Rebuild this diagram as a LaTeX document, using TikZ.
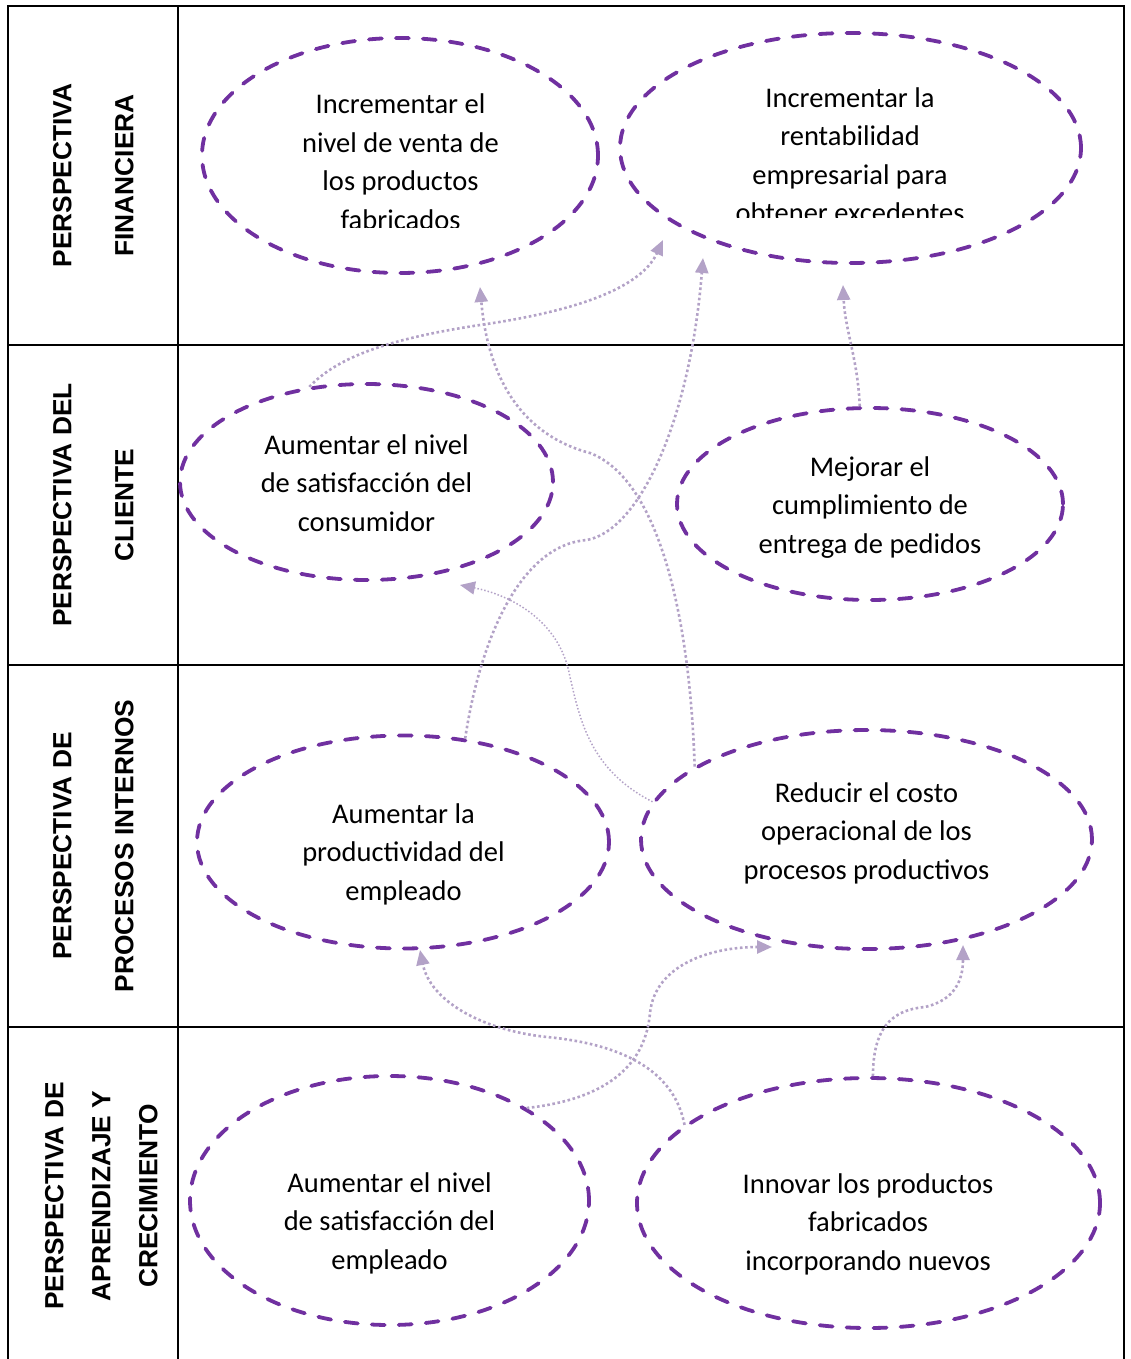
\documentclass[tikz,border=0pt]{standalone}
\usepackage{fontspec}
\setmainfont{Carlito}
\newfontfamily\labelfont{Liberation Sans}
\usetikzlibrary{shapes.geometric,arrows.meta}
\definecolor{ellpurple}{HTML}{7030A0}
\definecolor{linkpurple}{HTML}{B3A2C7}
\begin{document}
\begin{tikzpicture}[x=1pt,y=-1pt,
  objective/.style={draw=ellpurple, line width=3.8pt, dash pattern=on 13pt off 14pt, line cap=round, ellipse, inner sep=0pt},
  txt/.style={font=\fontsize{28.5}{38.5}\selectfont, align=center, inner sep=0pt, text=black},
  lbl/.style={font=\labelfont\bfseries\fontsize{26.3}{#1}\selectfont, rotate=90, align=center, inner sep=0pt},
  link/.style={draw=linkpurple, line width=2.6pt, dash pattern=on 2.6pt off 2.6pt, -{Triangle[length=15pt,width=13pt,fill=linkpurple]}},
  thinlink/.style={link, line width=1.5pt, dash pattern=on 1.5pt off 2pt},
  gridline/.style={line width=2.4pt, draw=black}]
\useasboundingbox (0,0) rectangle (1131,1359);
% table
\draw[gridline] (8,1370) -- (8,6) -- (1124,6) -- (1124,1370);
\draw[gridline] (178,6) -- (178,1370);
\draw[gridline] (8,345) -- (1124,345);
\draw[gridline] (8,665) -- (1124,665);
\draw[gridline] (8,1027) -- (1124,1027);
% row labels
\node[lbl=62] (l1) at (90,175.5) {\strut PERSPECTIVA\\\strut FINANCIERA};
\node[lbl=62] (l2) at (90,505) {\strut PERSPECTIVA DEL\\\strut CLIENTE};
\node[lbl=62] (l3) at (90,846) {\strut PERSPECTIVA DE\\\strut PROCESOS INTERNOS};
\node[lbl=47] (l4) at (101,1196) {\strut PERSPECTIVA DE\\\strut APRENDIZAJE Y\\\strut CRECIMIENTO};
% objectives
\node[objective, minimum width=396pt, minimum height=235pt] (e1) at (400,155.5) {};
\node[objective, minimum width=461pt, minimum height=230pt] (e2) at (850.5,148) {};
\node[objective, minimum width=373pt, minimum height=196pt] (e3) at (366.5,482) {};
\node[objective, minimum width=386pt, minimum height=192pt] (e4) at (870,504) {};
\node[objective, minimum width=412pt, minimum height=213pt] (e5) at (403,842) {};
\node[objective, minimum width=451pt, minimum height=219pt] (e6) at (866.5,839.5) {};
\node[objective, minimum width=399pt, minimum height=249pt] (e7) at (389.5,1200.5) {};
\node[objective, minimum width=463pt, minimum height=250pt] (e8) at (868.5,1203) {};
% texts
\begin{scope}
\clip (200,30) rectangle (600,227);
\node[txt] (t1) at (400.5,163.75) {\strut Incrementar el\\\strut nivel de venta de\\\strut los productos\\\strut fabricados};
\end{scope}
\begin{scope}
\clip (620,25) rectangle (1085,217);
\node[txt] (t2) at (850,157.25) {\strut Incrementar la\\\strut rentabilidad\\\strut empresarial para\\\strut obtener excedentes};
\end{scope}
\node[txt] (t3) at (366.5,485) {\strut Aumentar el nivel\\\strut de satisfacción del\\\strut consumidor};
\node[txt] (t4) at (870,507) {\strut Mejorar el\\\strut cumplimiento de\\\strut entrega de pedidos};
\node[txt] (t5) at (403.5,854) {\strut Aumentar la\\\strut productividad del\\\strut empleado};
\node[txt] (t6) at (866.5,833) {\strut Reducir el costo\\\strut operacional de los\\\strut procesos productivos};
\node[txt] (t7) at (389.5,1223) {\strut Aumentar el nivel\\\strut de satisfacción del\\\strut empleado};
\node[txt] (t8) at (868,1224) {\strut Innovar los productos\\\strut fabricados\\\strut incorporando nuevos};
% arrow tips
\coordinate (tA) at (663,240);
\coordinate (tB) at (480,287);
\coordinate (tC) at (703,258);
\coordinate (tD) at (843,285);
\coordinate (tE) at (460,585);
\coordinate (tF) at (420,950);
\coordinate (tG) at (772,947);
\coordinate (tH) at (963,945);
% connectors
\draw[link] (e3.121) .. controls (335,360) and (380,340) .. (480,325) .. controls (570,312) and (640,290) .. (tA);
\draw[link] (e6.157) .. controls (690,620) and (660,480) .. (590,453) .. controls (540,440) and (490,400) .. (tB);
\draw[link] (e5.59) .. controls (480,640) and (520,545) .. (587,540) .. controls (640,530) and (690,420) .. (tC);
\draw[link] (e4.96) .. controls (858,360) and (845,330) .. (tD);
\draw[thinlink] (e6.170) .. controls (590,770) and (580,720) .. (570,677) .. controls (560,620) and (510,595) .. (tE);
\draw[link] (e8.157) .. controls (675,1075) and (630,1045) .. (547,1037) .. controls (480,1030) and (430,1000) .. (tF);
\draw[link] (e7.34) .. controls (600,1100) and (645,1070) .. (650,1013) .. controls (655,965) and (710,947) .. (tG);
\draw[link] (e8.88) .. controls (873,1030) and (890,1010) .. (925,1007) .. controls (955,1000) and (963,980) .. (tH);
\end{tikzpicture}
\end{document}
